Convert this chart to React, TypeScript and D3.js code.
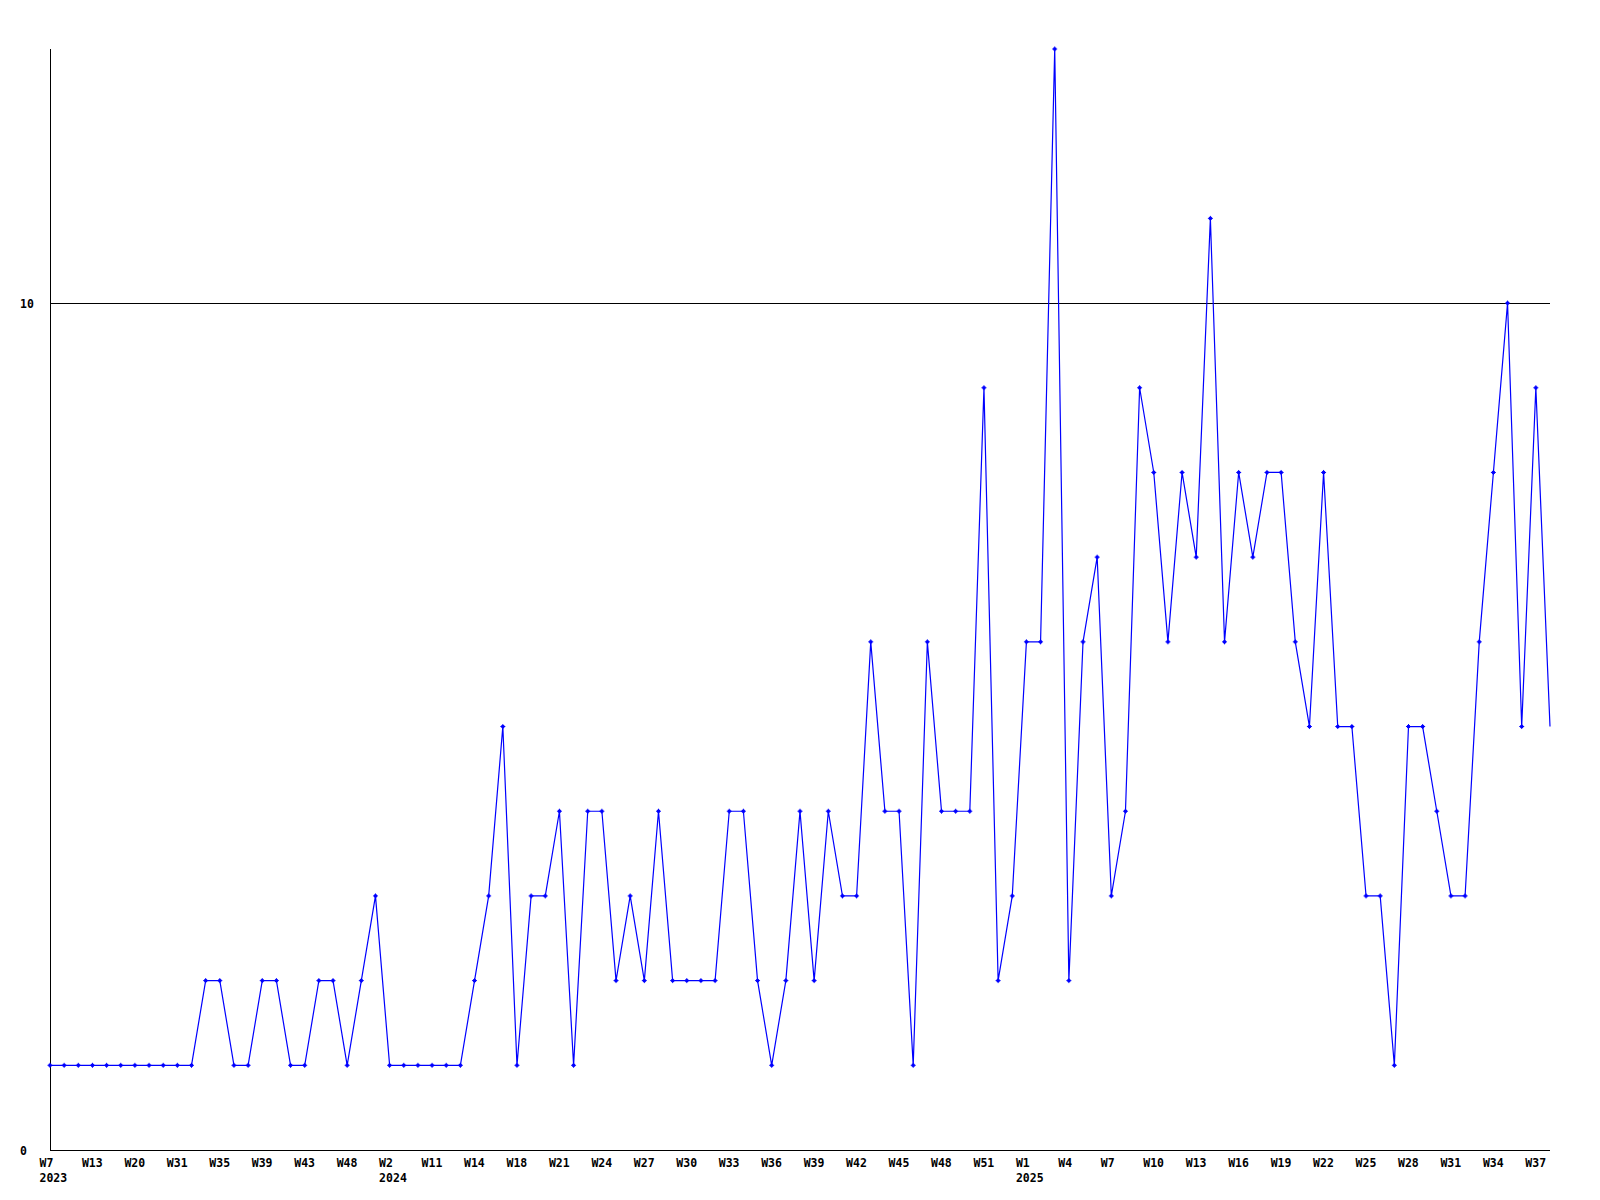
import React from "react";
import * as d3 from "d3";

const values: number[] = [
  1, 1, 1, 1, 1, 1, 1, 1, 1, 1, 1, 2, 2, 1, 1, 2, 2, 1, 1, 2, 2, 1, 2, 3,
  1, 1, 1, 1, 1, 1, 2, 3, 5, 1, 3, 3, 4, 1, 4, 4, 2, 3, 2, 4, 2, 2, 2, 2,
  4, 4, 2, 1, 2, 4, 2, 4, 3, 3, 6, 4, 4, 1, 6, 4, 4, 4, 9, 2, 3, 6, 6, 13,
  2, 6, 7, 3, 4, 9, 8, 6, 8, 7, 11, 6, 8, 7, 8, 8, 6, 5, 8, 5, 5, 3, 3, 1,
  5, 5, 4, 3, 3, 6, 8, 10, 5, 9, 5,
];

// tick labels shown every third point
const weekLabels: string[] = [
  "W7", "W13", "W20", "W31", "W35", "W39", "W43", "W48", "W2", "W11", "W14", "W18",
  "W21", "W24", "W27", "W30", "W33", "W36", "W39", "W42", "W45", "W48", "W51", "W1",
  "W4", "W7", "W10", "W13", "W16", "W19", "W22", "W25", "W28", "W31", "W34", "W37",
];
const tickStep = 3;

const yearLabels: { index: number; label: string }[] = [
  { index: 0, label: "2023" },
  { index: 24, label: "2024" },
  { index: 69, label: "2025" },
];

const yTicks: number[] = [0, 10];
const yMax = 13;

const FONT = "'DejaVu Sans Mono', 'Liberation Mono', monospace";

export default function App() {
  const left = 50;
  const right = 1550;
  const top = 49;
  const bottom = 1150;

  const x = d3.scaleLinear().domain([0, values.length - 1]).range([left, right]);
  const y = d3.scaleLinear().domain([0, yMax]).range([bottom, top]);

  const line = d3
    .line<number>()
    .x((_, i) => x(i))
    .y((d) => y(d));

  return (
    <svg
      width={1600}
      height={1200}
      style={{ position: "absolute", left: 0, top: 0, background: "#fff" }}
    >
      <rect x={0} y={0} width={1600} height={1200} fill="#fff" />
      {/* gridline at 10 */}
      {yTicks
        .filter((t) => t !== 0)
        .map((t) => (
          <line
            key={"g" + t}
            x1={left}
            x2={right}
            y1={Math.round(y(t)) + 0.5}
            y2={Math.round(y(t)) + 0.5}
            stroke="#000"
            strokeWidth={1}
          />
        ))}
      {/* axes */}
      <line x1={left + 0.5} x2={left + 0.5} y1={top} y2={bottom + 0.5} stroke="#000" strokeWidth={1} />
      <line x1={left} x2={right} y1={bottom + 0.5} y2={bottom + 0.5} stroke="#000" strokeWidth={1} />

      {/* y labels */}
      {yTicks.map((t) => (
        <text
          key={"y" + t}
          x={20}
          y={y(t) + 4.5}
          fontFamily={FONT}
          fontWeight="bold"
          fontSize={11.5}
          fill="#000"
        >
          {t}
        </text>
      ))}

      {/* x labels */}
      {weekLabels.map((lab, k) => (
        <text
          key={"x" + k}
          x={x(k * tickStep) - 10.5}
          y={1167}
          fontFamily={FONT}
          fontWeight="bold"
          fontSize={11.5}
          fill="#000"
        >
          {lab}
        </text>
      ))}
      {yearLabels.map((yl) => (
        <text
          key={"yr" + yl.index}
          x={x(yl.index) - 10.5}
          y={1182}
          fontFamily={FONT}
          fontWeight="bold"
          fontSize={11.5}
          fill="#000"
        >
          {yl.label}
        </text>
      ))}

      {/* series line */}
      <path d={line(values) || ""} fill="none" stroke="#0000ff" strokeWidth={1.2} />

      {/* markers (last point has none) */}
      {values.slice(0, values.length - 1).map((v, i) => (
        <g key={"m" + i} transform={`translate(${x(i)},${y(v)})`}>
          <rect x={-1.5} y={-1.5} width={3} height={3} fill="#0000ff" />
          <path d="M-2.5,0H2.5M0,-2.5V2.5" stroke="#0000ff" strokeWidth={1} />
        </g>
      ))}
    </svg>
  );
}
